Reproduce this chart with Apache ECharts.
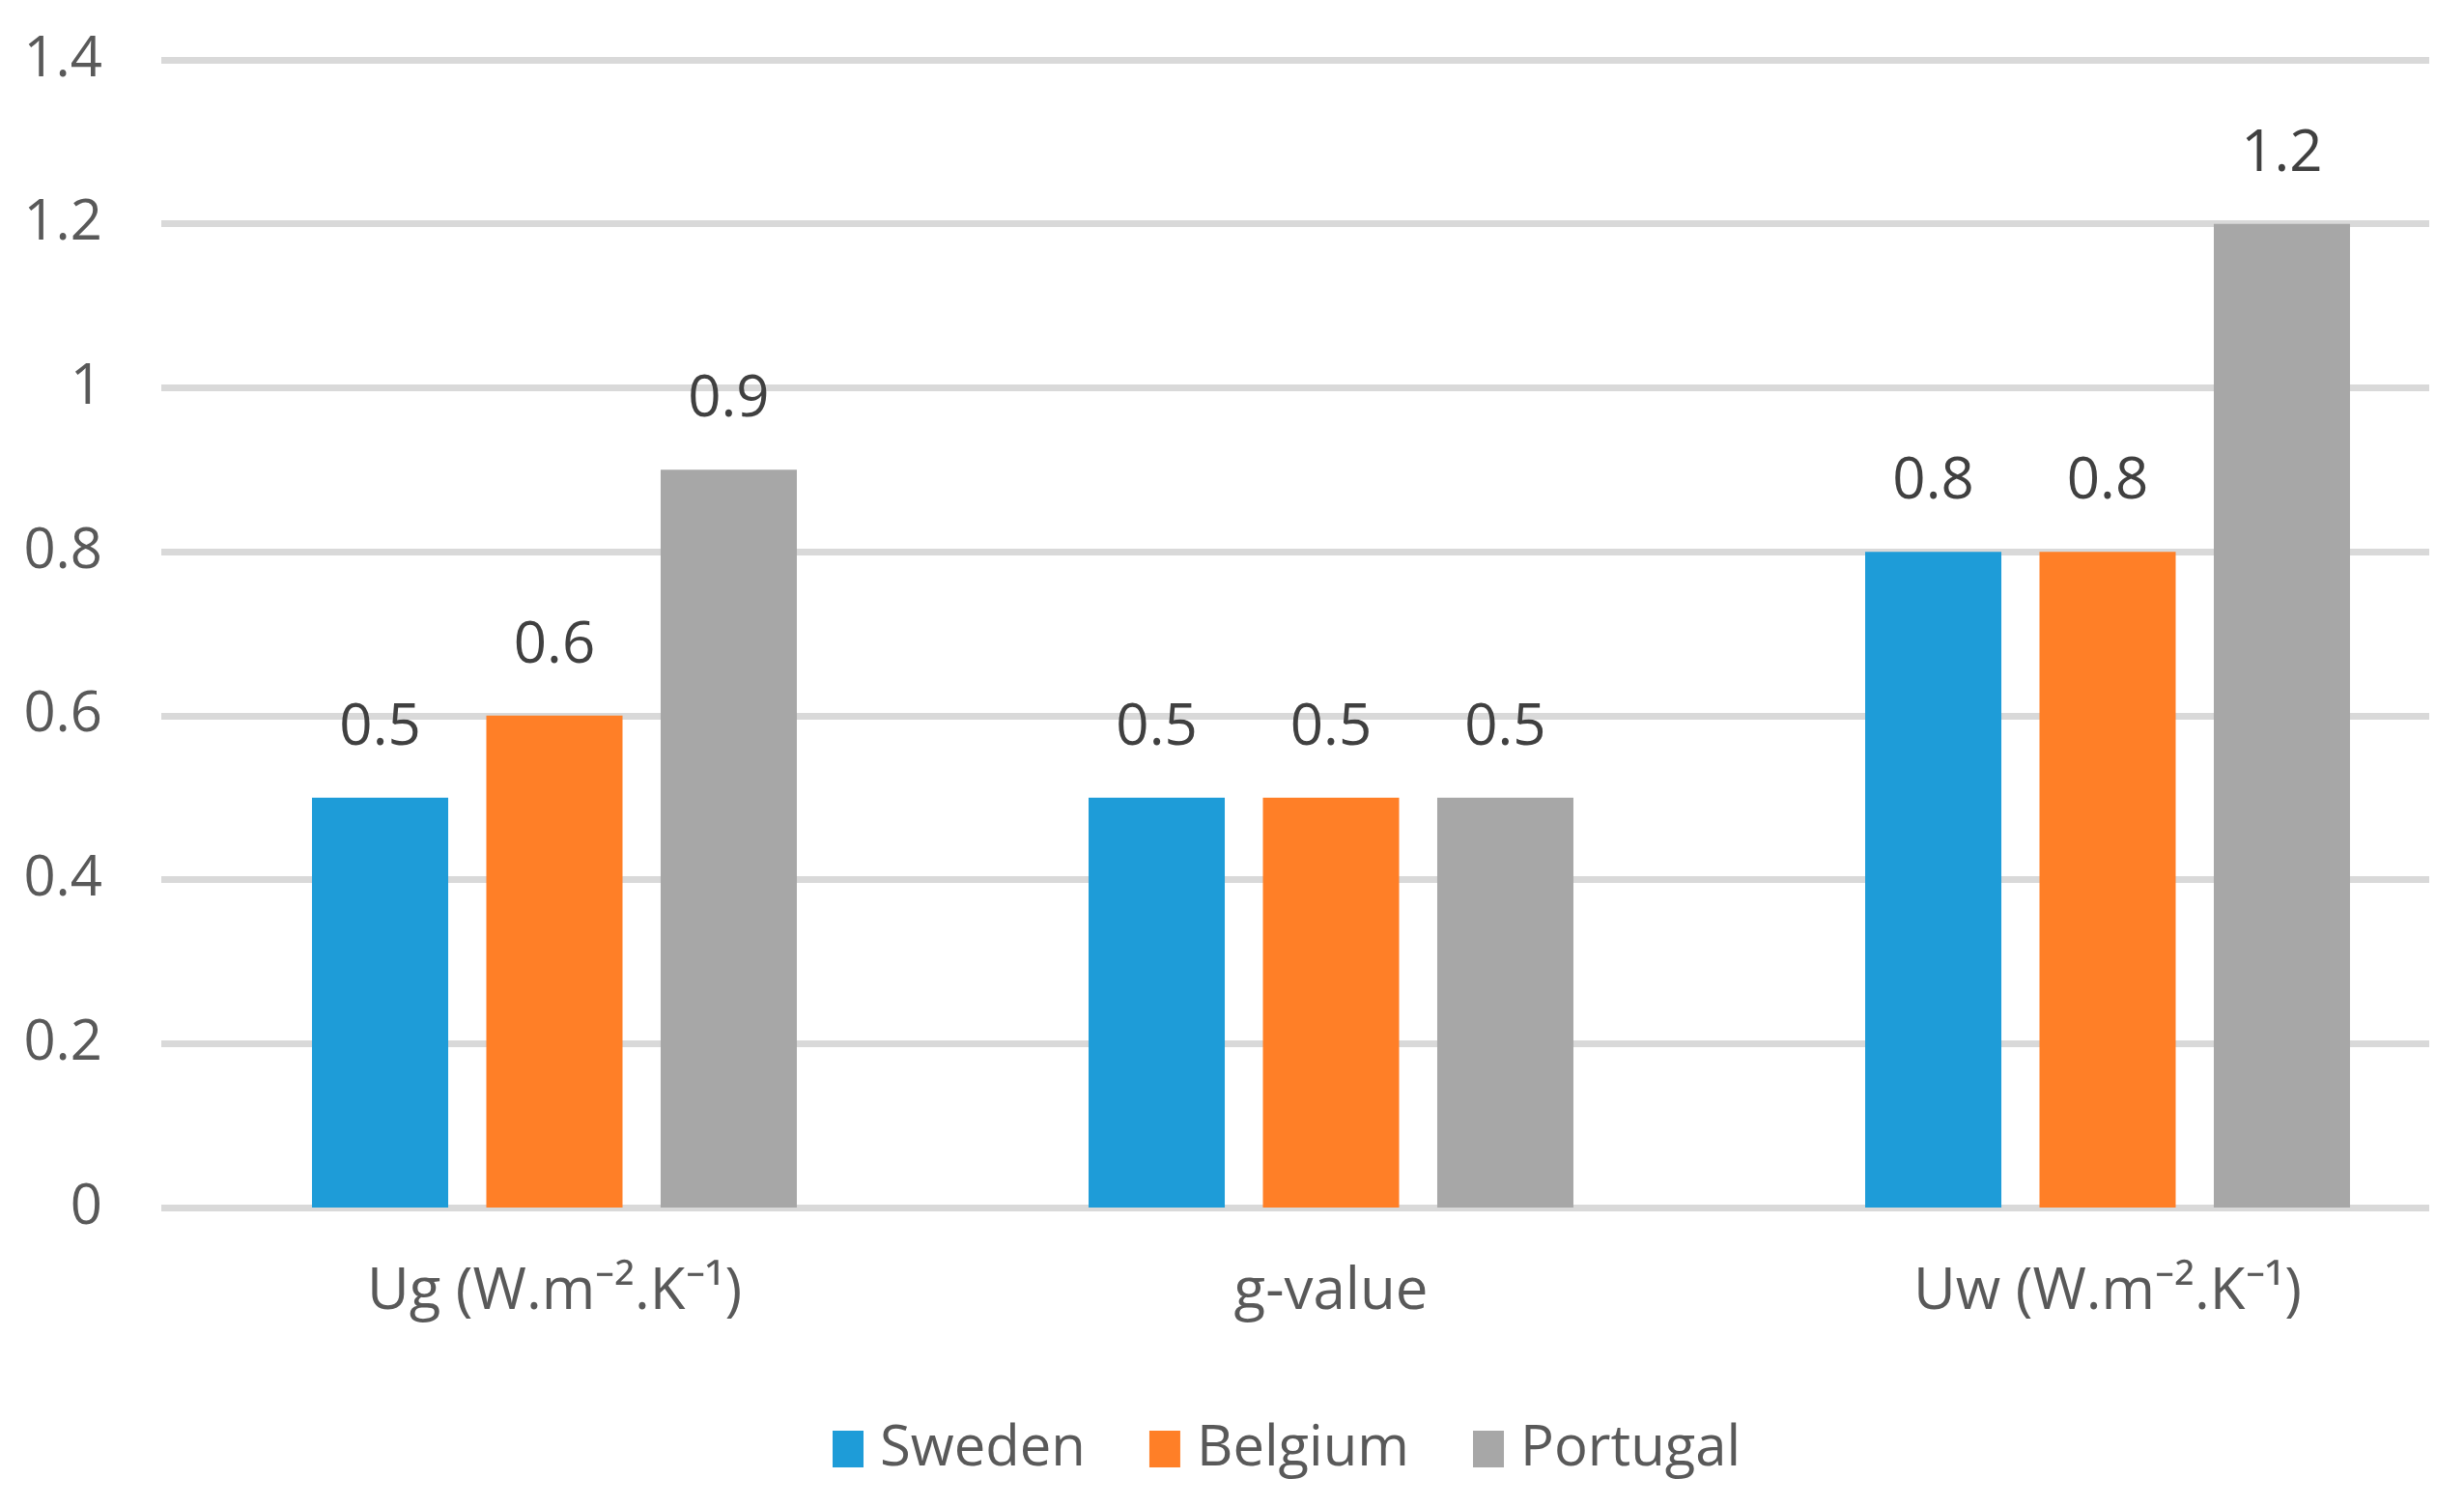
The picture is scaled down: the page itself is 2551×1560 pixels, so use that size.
<!DOCTYPE html>
<html>
<head>
<meta charset="utf-8">
<script src="https://cdn.jsdelivr.net/npm/echarts@6/dist/echarts.min.js"></script>
<style>
html,body{margin:0;padding:0;background:#fff;}
#chart{width:2551px;height:1560px;}
</style>
</head>
<body>
<div id="chart"></div>
<script>
const categories = ['Ug (W.m\u207B\u00B2.K\u207B\u00B9)', 'g-value', 'Uw (W.m\u207B\u00B2.K\u207B\u00B9)'];
const sweden = [0.5, 0.5, 0.8];
const belgium = [0.6, 0.5, 0.8];
const portugal = [0.9, 0.5, 1.2];
const seriesNames = ['Sweden', 'Belgium', 'Portugal'];
const yMin = 0, yMax = 1.4, yStep = 0.2;

const FONT = 'Open Sans';
const colors = ['#1E9CD8', '#FF7F27', '#A7A7A7'];
const chart = echarts.init(document.getElementById('chart'));

function barSeries(name, data, color) {
  return {
    name: name, type: 'bar', data: data,
    xAxisIndex: 1, yAxisIndex: 1,
    barWidth: 141, barGap: '28%',
    itemStyle: { color: color },
    label: {
      show: true, position: 'top', distance: 42,
      color: '#404040', fontFamily: FONT, fontSize: 60
    }
  };
}

chart.setOption({
  animation: false,
  backgroundColor: '#ffffff',
  color: colors,
  grid: [
    { left: 167, width: 2348, top: 62, height: 1188, outerBoundsMode: 'none', containLabel: false },
    { left: 172, width: 2412, top: 62, height: 1188, outerBoundsMode: 'none', containLabel: false }
  ],
  legend: {
    data: seriesNames,
    left: 857, top: 1466,
    itemWidth: 32, itemHeight: 38, itemGap: 66,
    icon: 'rect',
    textStyle: { color: '#595959', fontFamily: FONT, fontSize: 58, padding: [0, 0, 0, 12] }
  },
  xAxis: [
    { type: 'category', gridIndex: 0, data: categories, show: false },
    {
      type: 'category', gridIndex: 1, data: categories,
      axisLine: { show: false }, axisTick: { show: false },
      axisLabel: { color: '#595959', fontFamily: FONT, fontSize: 60, margin: 58 }
    }
  ],
  yAxis: [
    {
      type: 'value', gridIndex: 0, min: yMin, max: yMax, interval: yStep,
      axisLine: { show: false }, axisTick: { show: false },
      axisLabel: { color: '#595959', fontFamily: FONT, fontSize: 58, margin: 61 },
      splitLine: { lineStyle: { color: '#D9D9D9', width: 7 } }
    },
    {
      type: 'value', gridIndex: 1, min: yMin, max: yMax, interval: yStep,
      show: false, splitLine: { show: false }
    }
  ],
  series: [
    barSeries(seriesNames[0], sweden, colors[0]),
    barSeries(seriesNames[1], belgium, colors[1]),
    barSeries(seriesNames[2], portugal, colors[2])
  ]
});
</script>
</body>
</html>
